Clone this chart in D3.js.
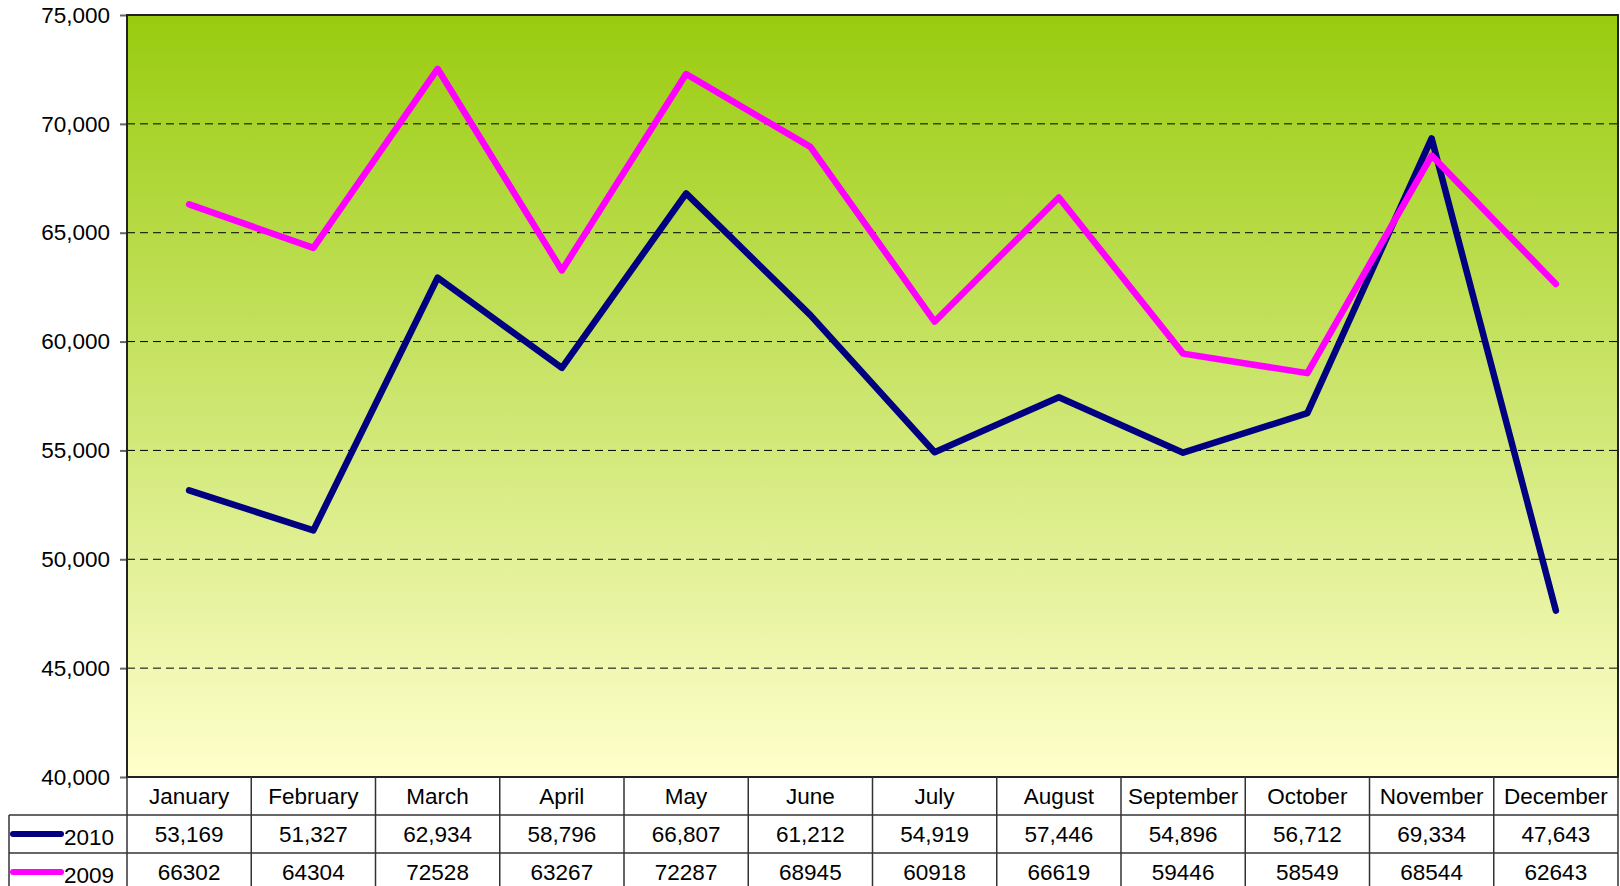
<!DOCTYPE html>
<html lang="en">
<head>
<meta charset="utf-8">
<title>2010 vs 2009 by month</title>
<script src="https://d3js.org/d3.v7.min.js"></script>
<style>
  body { margin: 0; background: #fff; }
  svg text { font-family: "Liberation Sans", Arial, sans-serif; fill: #000; }
</style>
</head>
<body>
<div id="chart"></div>
<script>
var months = ['January', 'February', 'March', 'April', 'May', 'June', 'July',
  'August', 'September', 'October', 'November', 'December'];
var values2010 = [53169, 51327, 62934, 58796, 66807, 61212, 54919, 57446, 54896, 56712, 69334, 47643];
var values2009 = [66302, 64304, 72528, 63267, 72287, 68945, 60918, 66619, 59446, 58549, 68544, 62643];
var yTicks = [40000, 45000, 50000, 55000, 60000, 65000, 70000, 75000];

(function(d3) {
  'use strict';

  var series = [
    { name: '2010', values: values2010, color: '#000080', fmt: d3.format(',') },
    { name: '2009', values: values2009, color: '#ff00ff', fmt: d3.format('d') }
  ];

  var width = 1620, height = 886;
  var plotLeft = 127, plotRight = 1618, plotTop = 15, plotBottom = 777;
  var rowH = 38, tableLeft = 9;
  var fontSize = '22.5px';

  var svg = d3.select('#chart').append('svg')
    .attr('width', width)
    .attr('height', height);

  var grad = svg.append('defs').append('linearGradient')
    .attr('id', 'bg')
    .attr('x1', 0).attr('y1', 0).attr('x2', 0).attr('y2', 1);
  grad.append('stop').attr('offset', '0%').attr('stop-color', '#99cc0f');
  grad.append('stop').attr('offset', '100%').attr('stop-color', '#ffffcc');

  var x = d3.scaleBand().domain(months).range([plotLeft, plotRight]);
  var y = d3.scaleLinear().domain([40000, 75000]).range([plotBottom, plotTop]);

  // plot background
  svg.append('rect')
    .attr('x', plotLeft).attr('y', plotTop)
    .attr('width', plotRight - plotLeft).attr('height', plotBottom - plotTop)
    .attr('fill', 'url(#bg)');

  // grid
  svg.append('g').selectAll('line')
    .data(yTicks.slice(1, -1))
    .enter().append('line')
    .attr('x1', plotLeft).attr('x2', plotRight)
    .attr('y1', function(d) { return y(d); })
    .attr('y2', function(d) { return y(d); })
    .attr('stroke', '#000')
    .attr('stroke-width', 1)
    .attr('stroke-dasharray', '8,5');

  // y axis
  var yAxis = d3.axisLeft(y)
    .tickValues(yTicks)
    .tickFormat(d3.format(','))
    .tickSize(7)
    .tickSizeOuter(0)
    .tickPadding(10);
  var ya = svg.append('g')
    .attr('transform', 'translate(' + plotLeft + ',0)')
    .call(yAxis);
  ya.select('.domain').remove();
  ya.selectAll('.tick line').attr('stroke', '#666').attr('stroke-width', 2);
  ya.selectAll('.tick text')
    .style('font-size', fontSize)
    .style('font-family', '"Liberation Sans", Arial, sans-serif');

  // plot border
  svg.append('rect')
    .attr('x', plotLeft).attr('y', plotTop)
    .attr('width', plotRight - plotLeft).attr('height', plotBottom - plotTop)
    .attr('fill', 'none')
    .attr('stroke', '#222')
    .attr('stroke-width', 2);

  // lines
  var line = d3.line()
    .x(function(d, i) { return x(months[i]) + x.bandwidth() / 2; })
    .y(function(d) { return y(d); });

  svg.append('g').selectAll('path')
    .data(series)
    .enter().append('path')
    .attr('d', function(s) { return line(s.values); })
    .attr('fill', 'none')
    .attr('stroke', function(s) { return s.color; })
    .attr('stroke-width', 6.5)
    .attr('stroke-linejoin', 'round')
    .attr('stroke-linecap', 'round');

  // data table
  var table = svg.append('g');
  var tableBottom = plotBottom + rowH * 3;

  table.selectAll('.month')
    .data(months)
    .enter().append('text')
    .attr('class', 'month')
    .attr('x', function(d) { return x(d) + x.bandwidth() / 2; })
    .attr('y', plotBottom + rowH / 2)
    .attr('text-anchor', 'middle')
    .attr('dominant-baseline', 'central')
    .style('font-size', fontSize)
    .text(function(d) { return d; });

  var vx = months.map(function(m) { return x(m); }).concat([plotRight]);
  table.selectAll('.vline')
    .data(vx)
    .enter().append('line')
    .attr('x1', function(d) { return d; }).attr('x2', function(d) { return d; })
    .attr('y1', plotBottom).attr('y2', tableBottom)
    .attr('stroke', '#333').attr('stroke-width', 1.5);

  table.append('line')
    .attr('x1', tableLeft).attr('x2', tableLeft)
    .attr('y1', plotBottom + rowH).attr('y2', tableBottom)
    .attr('stroke', '#333').attr('stroke-width', 1.5);

  table.selectAll('.hline')
    .data([1, 2, 3])
    .enter().append('line')
    .attr('x1', tableLeft).attr('x2', plotRight)
    .attr('y1', function(d) { return plotBottom + rowH * d; })
    .attr('y2', function(d) { return plotBottom + rowH * d; })
    .attr('stroke', '#333').attr('stroke-width', 1.5);

  var rows = table.selectAll('.row')
    .data(series)
    .enter().append('g')
    .attr('class', 'row')
    .attr('transform', function(s, i) {
      return 'translate(0,' + (plotBottom + rowH * (i + 1)) + ')';
    });

  rows.append('line')
    .attr('x1', 13).attr('x2', 61)
    .attr('y1', rowH / 2).attr('y2', rowH / 2)
    .attr('stroke', function(s) { return s.color; })
    .attr('stroke-width', 6)
    .attr('stroke-linecap', 'round');

  rows.append('text')
    .attr('x', 64)
    .attr('y', rowH / 2 + 3)
    .attr('dominant-baseline', 'central')
    .style('font-size', fontSize)
    .text(function(s) { return s.name; });

  rows.each(function(s) {
    d3.select(this).selectAll('.val')
      .data(s.values)
      .enter().append('text')
      .attr('class', 'val')
      .attr('x', function(d, i) { return x(months[i]) + x.bandwidth() / 2; })
      .attr('y', rowH / 2)
      .attr('text-anchor', 'middle')
      .attr('dominant-baseline', 'central')
      .style('font-size', fontSize)
      .text(function(d) { return s.fmt(d); });
  });
})(window.d3);
</script>
</body>
</html>
